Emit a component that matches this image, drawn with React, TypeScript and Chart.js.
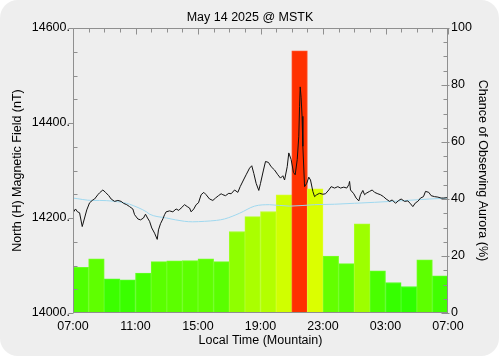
import React, { useEffect, useRef } from 'react';
import { Chart, registerables } from 'chart.js';

Chart.register(...registerables);

// ---- Data ----
const titleText = 'May 14 2025 @ MSTK';
const xTitle = 'Local Time (Mountain)';
const leftTitle = 'North (H) Magnetic Field (nT)';
const rightTitle = 'Chance of Observing Aurora (%)';

// hourly bars, hours after 07:00 local
const barHours = [0, 1, 2, 3, 4, 5, 6, 7, 8, 9, 10, 11, 12, 13, 14, 15, 16, 17, 18, 19, 20, 21, 22, 23];
const auroraChance = [16, 19, 12, 11.6, 14, 18, 18.3, 18.4, 19, 18, 28.6, 33.8, 35.6, 41.5, 92, 43.6, 20, 17.3, 31.3, 14.8, 10.7, 9.3, 18.7, 13];

// magnetic field (black), hours after 07:00
const fieldTimes = [
  0.0, 0.16, 0.29, 0.42, 0.59, 0.74, 0.88, 1.06, 1.27, 1.38, 1.59, 1.70, 1.91, 2.08, 2.29, 2.44, 2.66, 2.87,
  3.08, 3.23, 3.44, 3.62, 3.83, 3.94, 4.15, 4.32, 4.51, 4.64, 4.77, 4.90, 5.04, 5.22, 5.39, 5.47, 5.60, 5.75,
  5.86, 5.96, 6.18, 6.39, 6.60, 6.77, 6.92, 7.14, 7.31, 7.46, 7.56, 7.73, 7.88, 8.03, 8.20, 8.37, 8.52, 8.74,
  8.95, 9.12, 9.31, 9.48, 9.59, 9.76, 9.97, 10.12, 10.34, 10.55, 10.70, 10.91, 11.08, 11.30, 11.44, 11.57,
  11.72, 11.89, 12.00, 12.19, 12.32, 12.51, 12.68, 12.90, 13.11, 13.28, 13.43, 13.54, 13.71, 13.81, 13.96,
  14.11, 14.22, 14.35, 14.45, 14.50, 14.54, 14.60, 14.66, 14.71, 14.82, 14.96, 15.09, 15.20, 15.35, 15.46,
  15.60, 15.78, 15.99, 16.16, 16.37, 16.52, 16.74, 16.95, 17.12, 17.33, 17.52, 17.65, 17.70, 17.76, 17.97,
  18.12, 18.29, 18.40, 18.55, 18.66, 18.76, 18.98, 19.15, 19.30, 19.51, 19.68, 19.87, 20.04, 20.26, 20.43,
  20.64, 20.85, 21.00, 21.22, 21.43, 21.60, 21.75, 21.92, 22.07, 22.24, 22.43, 22.56, 22.77, 22.92, 23.14,
  23.35, 23.56, 23.73, 24.0,
];
const fieldValues = [
  14211, 14219, 14213, 14211, 14182, 14200, 14217, 14232, 14238, 14240, 14249, 14253, 14259, 14254, 14247, 14240, 14235, 14237,
  14235, 14231, 14228, 14224, 14219, 14207, 14198, 14196, 14200, 14208, 14200, 14193, 14179, 14168, 14155, 14175, 14188, 14198,
  14207, 14213, 14215, 14213, 14219, 14216, 14221, 14228, 14224, 14221, 14213, 14219, 14228, 14232, 14249, 14254, 14249, 14240,
  14237, 14242, 14247, 14251, 14249, 14247, 14252, 14251, 14259, 14254, 14266, 14280, 14291, 14305, 14310, 14294,
  14273, 14258, 14273, 14301, 14319, 14317, 14308, 14301, 14291, 14284, 14289, 14280, 14308, 14337, 14323,
  14296, 14291, 14323, 14372, 14435, 14476, 14453, 14414, 14351, 14266, 14273, 14286, 14280, 14256, 14245,
  14249, 14252, 14250, 14251, 14259, 14266, 14263, 14266, 14263, 14265, 14263, 14270, 14277, 14259, 14251,
  14242, 14236, 14249, 14258, 14249, 14252, 14256, 14259, 14254, 14251, 14249, 14245, 14240, 14235, 14238,
  14231, 14237, 14240, 14235, 14236, 14230, 14224, 14232, 14235, 14242, 14245, 14256, 14254, 14247, 14245,
  14244, 14242, 14242, 14243,
];

// quiet-day baseline (light blue)
const quietTimes = [0, 1.25, 1.7, 3.42, 3.62, 4.7, 4.9, 5.98, 7.14, 7.65, 8.42, 9.18, 9.7, 10.66, 11.62, 12.58, 13.86, 15.46, 16.74, 18.02, 19.3, 20.9, 22.82, 24];
const quietValues = [14242, 14237, 14237, 14231, 14229, 14213, 14208, 14200, 14193, 14192, 14193, 14195, 14198, 14210, 14225, 14228, 14225, 14228, 14229, 14231, 14233, 14236, 14240, 14242];

const xTickValues = [0, 4, 8, 12, 16, 20, 24];
const xTickLabels = ['07:00', '11:00', '15:00', '19:00', '23:00', '03:00', '07:00'];
const leftTickValues = [14000, 14200, 14400, 14600];
const leftTickLabels = ['14000.', '14200.', '14400.', '14600.'];
const rightTickValues = [0, 20, 40, 60, 80, 100];
const rightTickLabels = ['0', '20', '40', '60', '80', '100'];

const FONT = { family: "'Liberation Sans', Arial, sans-serif", size: 12.5, weight: 'normal' as const };
const AXIS_GRAY = '#8f8f8f';

function chanceColor(v: number, light = 50): string {
  const hue = Math.max(0, 120 - 1.18 * v);
  return `hsl(${hue}, 100%, ${light}%)`;
}

const axisBoxPlugin = {
  id: 'axisBox',
  afterDatasetsDraw(chart: any) {
    const { ctx, chartArea, scales } = chart;
    const { left, right, top, bottom } = chartArea;
    ctx.save();
    ctx.strokeStyle = AXIS_GRAY;
    ctx.lineWidth = 1;
    const L = Math.round(left) + 0.5;
    const R = Math.round(right) - 0.5;
    const T = Math.round(top) + 0.5;
    const B = Math.round(bottom) - 0.5;
    ctx.beginPath();
    ctx.moveTo(L, T); ctx.lineTo(R, T); ctx.lineTo(R, B); ctx.lineTo(L, B); ctx.closePath();
    ctx.stroke();
    ctx.beginPath();
    // top hourly ticks
    const xs = scales.x;
    for (let h = 0; h <= 24; h++) {
      const px = Math.round(xs.getPixelForValue(h)) + 0.5;
      ctx.moveTo(px, T);
      ctx.lineTo(px, T + (h % 4 === 0 ? 6 : 4));
    }
    // left ticks
    const yl = scales.yLeft;
    for (let v = 14000; v <= 14600; v += 50) {
      const py = Math.round(yl.getPixelForValue(v)) + 0.5;
      if (v % 200 === 0) { ctx.moveTo(L - 5, py); ctx.lineTo(L, py); }
      else { ctx.moveTo(L, py); ctx.lineTo(L + 4, py); }
    }
    // right ticks
    const yr = scales.yRight;
    for (let v = 0; v <= 100; v += 5) {
      const py = Math.round(yr.getPixelForValue(v)) + 0.5;
      if (v % 20 === 0) { ctx.moveTo(R - 6, py); ctx.lineTo(R + 2, py); }
      else { ctx.moveTo(R - 4, py); ctx.lineTo(R, py); }
    }
    ctx.stroke();
    ctx.restore();
  },
};

export default function App() {
  const canvasRef = useRef<HTMLCanvasElement | null>(null);

  useEffect(() => {
    const canvas = canvasRef.current;
    if (!canvas) return;
    const chart = new Chart(canvas, {
      type: 'line',
      data: {
        datasets: [
          {
            type: 'line',
            label: 'H field',
            data: fieldTimes.map((t, i) => ({ x: t, y: fieldValues[i] })),
            yAxisID: 'yLeft',
            xAxisID: 'x',
            borderColor: '#111111',
            borderWidth: 1,
            pointRadius: 0,
            tension: 0,
            order: 0,
          },
          {
            type: 'line',
            label: 'Quiet',
            data: quietTimes.map((t, i) => ({ x: t, y: quietValues[i] })),
            yAxisID: 'yLeft',
            xAxisID: 'x',
            borderColor: '#9fd8ef',
            borderWidth: 1,
            pointRadius: 0,
            cubicInterpolationMode: 'monotone',
            order: 1,
          },
          {
            type: 'bar',
            label: 'Chance',
            data: barHours.map((h, i) => ({ x: h + 0.5, y: auroraChance[i] })),
            yAxisID: 'yRight',
            xAxisID: 'x',
            backgroundColor: auroraChance.map((v) => chanceColor(v, 50)),
            borderColor: auroraChance.map((v) => chanceColor(v, 57)),
            borderWidth: 1,
            borderSkipped: 'start',
            barPercentage: 1,
            categoryPercentage: 1,
            order: 2,
          } as any,
        ],
      },
      options: {
        responsive: false,
        animation: false,
        devicePixelRatio: 1,
        layout: { padding: 0 },
        plugins: {
          legend: { display: false },
          tooltip: { enabled: false },
          title: {
            display: true,
            text: titleText,
            color: '#000',
            font: FONT,
            padding: { top: 10, bottom: 3 },
          },
        },
        scales: {
          x: {
            type: 'linear',
            position: 'bottom',
            min: 0,
            max: 24,
            offset: false,
            grid: { display: false, drawTicks: false },
            border: { display: false },
            afterBuildTicks: (s: any) => { s.ticks = xTickValues.map((v) => ({ value: v })); },
            afterFit: (s: any) => { s.height = 44; },
            ticks: {
              autoSkip: false,
              maxRotation: 0,
              minRotation: 0,
              padding: 6,
              color: '#000',
              font: FONT,
              callback: (_v: any, i: number) => xTickLabels[i],
            },
            title: { display: true, text: xTitle, color: '#000', font: FONT, padding: { top: 0, bottom: 8.5 } },
          },
          yLeft: {
            type: 'linear',
            position: 'left',
            min: 14000,
            max: 14600,
            grid: { display: false, drawTicks: false },
            border: { display: false },
            afterBuildTicks: (s: any) => { s.ticks = leftTickValues.map((v) => ({ value: v })); },
            afterFit: (s: any) => { s.width = 73; },
            ticks: {
              padding: 3,
              color: '#000',
              font: FONT,
              callback: (_v: any, i: number) => leftTickLabels[i],
            },
            title: { display: true, text: leftTitle, color: '#000', font: FONT, padding: { top: 10, bottom: 0 } },
          },
          yRight: {
            type: 'linear',
            position: 'right',
            min: 0,
            max: 100,
            grid: { display: false, drawTicks: false },
            border: { display: false },
            afterBuildTicks: (s: any) => { s.ticks = rightTickValues.map((v) => ({ value: v })); },
            afterFit: (s: any) => { s.width = 52; },
            ticks: {
              padding: 3,
              color: '#000',
              font: FONT,
              callback: (_v: any, i: number) => rightTickLabels[i],
            },
            title: { display: true, text: rightTitle, color: '#000', font: FONT, padding: { top: 10.5, bottom: 0 } },
          },
        },
      } as any,
      plugins: [axisBoxPlugin],
    });
    return () => chart.destroy();
  }, []);

  return (
    <div style={{ position: 'absolute', left: 0, top: 0, width: 500, height: 357, background: '#ffffff', overflow: 'hidden' }}>
      <div
        style={{
          position: 'absolute',
          left: 0,
          top: 0,
          width: 499,
          height: 356,
          borderRadius: 18,
          background: '#eeeeee',
        }}
      />
      <canvas
        ref={canvasRef}
        width={500}
        height={357}
        style={{ position: 'absolute', left: 0, top: 0, width: 500, height: 357, display: 'block' }}
      />
    </div>
  );
}
